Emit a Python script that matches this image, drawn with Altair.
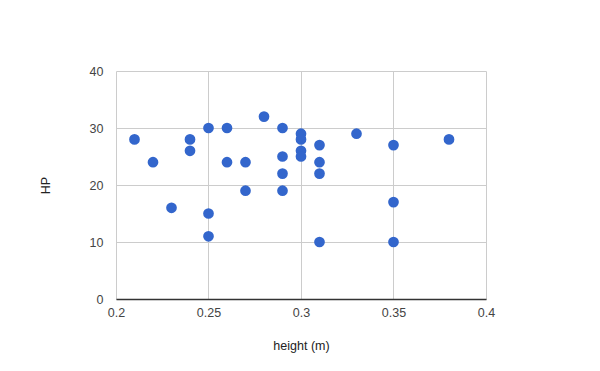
import altair as alt
import pandas as pd

heights = [0.21, 0.22, 0.23, 0.24, 0.24, 0.25, 0.25, 0.25, 0.26, 0.26,
           0.27, 0.27, 0.28, 0.29, 0.29, 0.29, 0.29, 0.30, 0.30, 0.30,
           0.30, 0.31, 0.31, 0.31, 0.31, 0.33, 0.35, 0.35, 0.35, 0.38]
hp = [28, 24, 16, 28, 26, 30, 15, 11, 30, 24,
      24, 19, 32, 30, 25, 22, 19, 29, 28, 26,
      25, 27, 24, 22, 10, 29, 27, 17, 10, 28]

x_ticks = [0.2, 0.25, 0.3, 0.35, 0.4]
y_ticks = [0, 10, 20, 30, 40]

df = pd.DataFrame({"height": heights, "HP": hp})

font = "Liberation Sans"

chart = alt.Chart(df).mark_circle(size=115, opacity=1, color="#3366cc").encode(
    x=alt.X("height:Q", title="height (m)",
            scale=alt.Scale(domain=[0.2, 0.4], nice=False, zero=False),
            axis=alt.Axis(values=x_ticks, format="~g",
                          ticks=False, domainColor="#333333", domainWidth=1.5,
                          labelPadding=7, labelFontSize=12.5, labelColor="#444444",
                          titleY=46, titleBaseline="middle", titleFontSize=12.5,
                          titleFontWeight="normal", titleColor="#222222",
                          gridColor="#cccccc", labelFlush=False)),
    y=alt.Y("HP:Q", title="HP",
            scale=alt.Scale(domain=[0, 40], nice=False),
            axis=alt.Axis(values=y_ticks, ticks=False, domain=False,
                          labelPadding=13, labelFontSize=12.5, labelColor="#444444",
                          titleX=-71, titleY=114, titleBaseline="middle", titleAlign="center",
                          titleFontSize=12.5, titleFontWeight="normal", titleColor="#222222",
                          gridColor="#cccccc")),
).properties(
    width=370, height=228,
    autosize=alt.AutoSizeParams(type="none"),
    padding={"left": 116, "top": 71, "right": 114, "bottom": 72},
    background="white",
).configure_view(stroke=None).configure_axis(labelFont=font, titleFont=font)

chart.save("out.html", embed_options={"renderer": "svg", "actions": False})
